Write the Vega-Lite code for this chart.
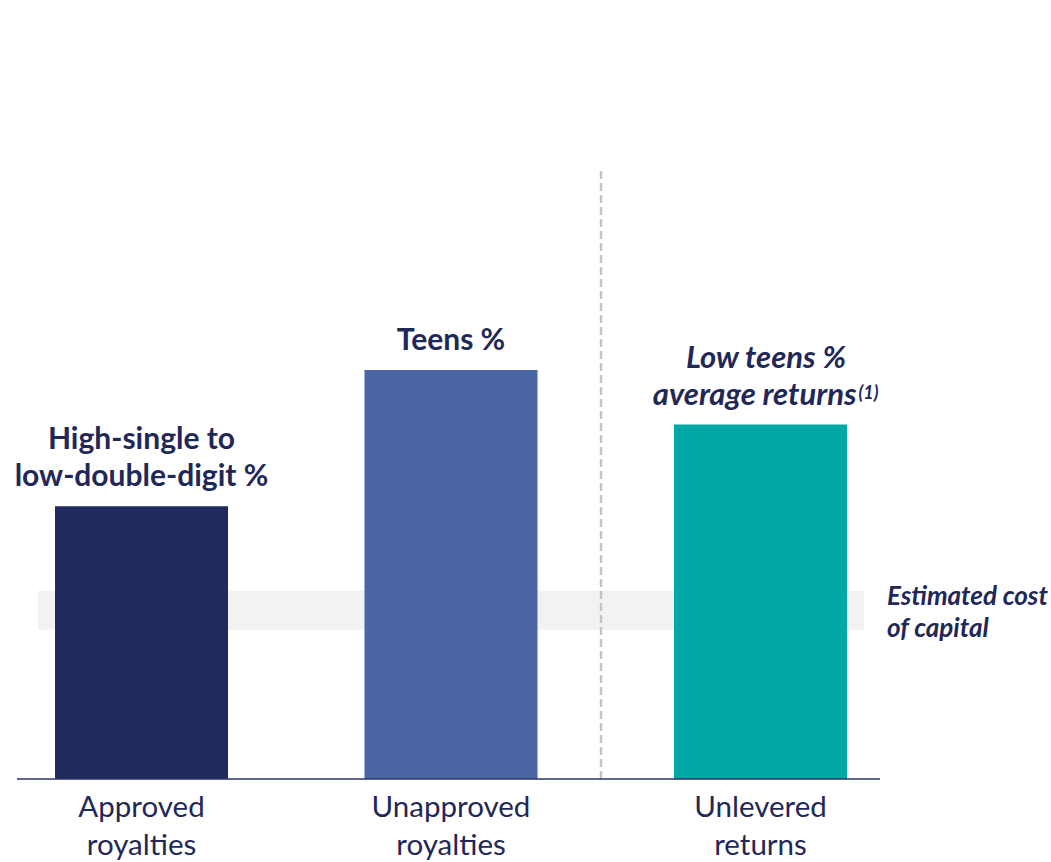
{
  "$schema": "https://vega.github.io/schema/vega-lite/v6.json",
  "width": 1051,
  "height": 779,
  "autosize": "none",
  "padding": {"left": 0, "top": 0, "right": 0, "bottom": 83},
  "background": "white",
  "config": {"view": {"stroke": null}, "font": "Lato"},
  "datasets": {
    "bars": [
      {"pos": 1, "value": 7.0, "name": "Approved", "cat": ["Approved", "royalties"], "l1": "High-single to", "l2": "low-double-digit %", "style": "plain"},
      {"pos": 2, "value": 10.5, "name": "Unapproved", "cat": ["Unapproved", "royalties"], "l1": "", "l2": "Teens %", "style": "plain"},
      {"pos": 3, "value": 9.1, "name": "Unlevered", "cat": ["Unlevered", "returns"], "l1": "Low teens %", "l2": "average returns", "sup": "(1)", "style": "italic"}
    ],
    "band": [{"lo": 0.6656, "hi": 3.3344, "y1": 3.83, "y2": 4.83, "pos": 3.4055, "text": ["Estimated cost", "of capital"]}],
    "axis": [{"lo": 0.5977, "hi": 3.3861, "base": 0}],
    "divider": [{"pos": 2.4847, "top": 15.69, "base": 0}]
  },
  "layer": [
    {
      "data": {"name": "band"},
      "mark": {"type": "rect", "color": "#F2F2F2"},
      "encoding": {
        "x": {"field": "lo", "type": "quantitative", "scale": {"domain": [0.54281, 3.93861], "nice": false, "zero": false, "padding": 0}, "axis": null},
        "x2": {"field": "hi"},
        "y": {"field": "y1", "type": "quantitative", "scale": {"domain": [0, 20], "nice": false, "padding": 0}, "axis": null},
        "y2": {"field": "y2"}
      }
    },
    {
      "data": {"name": "divider"},
      "mark": {"type": "rule", "color": "#C4C4C4", "strokeWidth": 2.5, "strokeDash": [8, 4]},
      "encoding": {
        "x": {"field": "pos", "type": "quantitative"},
        "y": {"field": "base", "type": "quantitative"},
        "y2": {"field": "top"}
      }
    },
    {
      "data": {"name": "bars"},
      "mark": {"type": "bar", "size": 173},
      "encoding": {
        "x": {"field": "pos", "type": "quantitative"},
        "y": {"field": "value", "type": "quantitative"},
        "color": {"field": "name", "type": "nominal", "legend": null, "scale": {"domain": ["Approved", "Unapproved", "Unlevered"], "range": ["#212A5C", "#4A66A3", "#00A9A5"]}}
      }
    },
    {
      "data": {"name": "axis"},
      "mark": {"type": "rule", "color": "#2B3566", "strokeWidth": 1.5},
      "encoding": {
        "x": {"field": "lo", "type": "quantitative"},
        "x2": {"field": "hi"},
        "y": {"field": "base", "type": "quantitative"}
      }
    },
    {
      "data": {"name": "bars"},
      "transform": [{"filter": "datum.style == 'plain'"}],
      "mark": {"type": "text", "baseline": "alphabetic", "align": "center", "fontSize": 30, "fontWeight": "bold", "color": "#1F2858", "dy": -20},
      "encoding": {
        "x": {"field": "pos", "type": "quantitative"},
        "y": {"field": "value", "type": "quantitative"},
        "text": {"field": "l2"}
      }
    },
    {
      "data": {"name": "bars"},
      "transform": [{"filter": "datum.style == 'plain'"}],
      "mark": {"type": "text", "baseline": "alphabetic", "align": "center", "fontSize": 30, "fontWeight": "bold", "color": "#1F2858", "dy": -57},
      "encoding": {
        "x": {"field": "pos", "type": "quantitative"},
        "y": {"field": "value", "type": "quantitative"},
        "text": {"field": "l1"}
      }
    },
    {
      "data": {"name": "bars"},
      "transform": [{"filter": "datum.style == 'italic'"}],
      "mark": {"type": "text", "baseline": "alphabetic", "align": "center", "fontSize": 31, "fontWeight": "bold", "fontStyle": "italic", "color": "#1F2858", "dy": -57, "dx": 5.5},
      "encoding": {
        "x": {"field": "pos", "type": "quantitative"},
        "y": {"field": "value", "type": "quantitative"},
        "text": {"field": "l1"}
      }
    },
    {
      "data": {"name": "bars"},
      "transform": [{"filter": "datum.style == 'italic'"}],
      "mark": {"type": "text", "baseline": "alphabetic", "align": "right", "fontSize": 31, "fontWeight": "bold", "fontStyle": "italic", "color": "#1F2858", "dy": -20, "dx": 96},
      "encoding": {
        "x": {"field": "pos", "type": "quantitative"},
        "y": {"field": "value", "type": "quantitative"},
        "text": {"field": "l2"}
      }
    },
    {
      "data": {"name": "bars"},
      "transform": [{"filter": "datum.style == 'italic'"}],
      "mark": {"type": "text", "baseline": "alphabetic", "align": "left", "fontSize": 18, "fontWeight": "bold", "fontStyle": "italic", "color": "#1F2858", "dy": -26, "dx": 98},
      "encoding": {
        "x": {"field": "pos", "type": "quantitative"},
        "y": {"field": "value", "type": "quantitative"},
        "text": {"field": "sup"}
      }
    },
    {
      "data": {"name": "bars"},
      "mark": {"type": "text", "baseline": "alphabetic", "align": "center", "fontSize": 29.5, "color": "#1F2858", "lineHeight": 38, "dy": 38},
      "encoding": {
        "x": {"field": "pos", "type": "quantitative"},
        "y": {"datum": 0, "type": "quantitative"},
        "text": {"field": "cat"}
      }
    },
    {
      "data": {"name": "band"},
      "mark": {"type": "text", "baseline": "alphabetic", "align": "left", "fontSize": 26, "fontWeight": "bold", "fontStyle": "italic", "color": "#1F2858", "lineHeight": 32, "dy": 14, "dx": 1},
      "encoding": {
        "x": {"field": "pos", "type": "quantitative"},
        "y": {"field": "y2", "type": "quantitative"},
        "text": {"field": "text"}
      }
    }
  ]
}
